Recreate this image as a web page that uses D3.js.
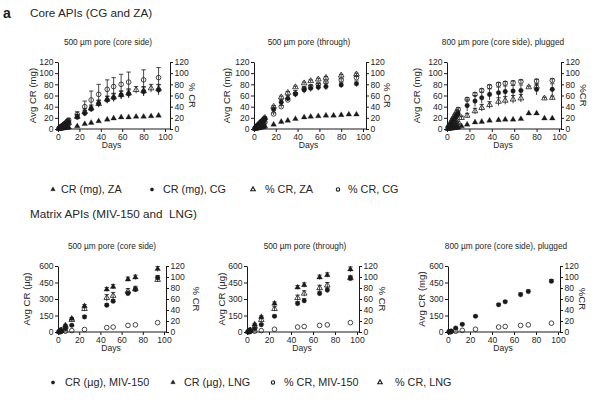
<!DOCTYPE html>
<html><head><meta charset="utf-8">
<script src="https://cdn.jsdelivr.net/npm/d3@7"></script>
<style>body{margin:0;background:#fff}svg{display:block}text{white-space:pre}</style>
</head><body><svg id="c" width="600" height="402"></svg>
<script>
// ---------- DATA ----------
const xTicks = [0,20,40,60,80,100];
const topLeftTicks = [0,20,40,60,80,100,120];
const topRightTicks = [0,20,40,60,80,100,120];
const botLeftTicks = [0,150,300,450,600];
const botRightTicks = [0,20,40,60,80,100,120];

// Panel 1: 500 um pore (core side) - core APIs
const p1Days   = [1,2,3,4,5,6,7,8,9,10,18,25,31,38,46,52,59,66,73,80,87,94];
const p1ZAmg   = [0.3,0.6,0.9,1.2,1.5,1.8,2.1,2.4,2.7,3,5,9,11,14,17,19,21,21,22,22,23,24];
const p1CGmg   = [1,2,3,4,5,6,7,8,10,12,21,28,36,46,52,56,61,63,null,67,null,70];
const p1CGmgE  = [0.5,0.5,0.5,1,1,1,1,1.5,2,2,4,5,5,6,6,7,7,7,null,8,null,9];
const p1ZApct  = [1,2,3,4,5,6,7,8,9,11,22,31,37,45,53,57,61,64,70,68,73,72];
const p1ZApctE = [0.5,0.5,1,1,1,1,1,2,2,2,4,5,6,6,6,7,7,8,6,8,7,8];
const p1CGpct  = [1.5,3,4.5,6,7.5,9,10.5,12,14,16,26,40,52,62,71,76,80,84,null,88,null,92];
const p1CGpctE = [1,1,1,1,2,2,2,2,3,3,5,10,16,18,17,16,18,18,null,18,null,18];

// Panel 2: 500 um pore (through) - core APIs
const p2Days   = [1,2,3,4,5,6,7,8,9,10,18,25,31,38,46,52,59,66,73,80,87,94];
const p2ZAmg   = [0.4,0.8,1.2,1.6,2,2.5,3,3.5,4,5,8,13,15,18,21,22,23,24,24,25,26,26];
const p2CGmg   = [2,4,6,8,10,12,14,15,17,19,35,48,55,63,70,73,75,76,null,79,null,81];
const p2CGmgE  = [1,1,1,1,1,1,2,2,2,2,4,5,5,6,6,6,6,6,null,5,null,5];
const p2ZApct  = [2,4,6,8,10,12,14,16,18,20,40,57,65,75,82,86,89,92,null,96,null,98];
const p2ZApctE = [1,1,1,1,1,1,1,1,1,1,2,2,2,2,2,2,2,2,null,2,null,2];
const p2CGpct  = [1,2,3,4,5,6,7,8,10,12,27,40,52,63,72,76,80,84,null,88,null,92];
const p2CGpctE = [1,1,1,1,1,1,1,1,1,1,2,2,2,2,2,2,2,2,null,2,null,2];

// Panel 3: 800 um pore (core side), plugged - core APIs
const p3Days   = [1,2,3,4,5,6,7,8,9,10,13,18,25,31,38,46,52,59,66,73,80,87,94];
const p3ZAmg   = [0.3,0.6,0.9,1.2,1.5,1.8,2.1,2.4,2.7,3,5,8,12,13,15,16,17,17,18,28,28,19,19];
const p3CGmg   = [2,4,7,10,13,16,19,21,24,27,null,42,50,56,62,65,67,68,69,null,71,null,71];
const p3CGmgE  = [1,1,2,2,3,3,3,4,4,5,null,10,10,10,10,10,10,10,10,null,10,null,10];
const p3ZApct  = [1,2,3,4,5,6,8,9,10,12,20,24,32,38,43,49,51,53,55,75,76,55,56];
const p3ZApctE = [0.5,0.5,1,1,1,1,1,1,2,2,3,4,5,6,6,7,7,7,7,2,3,2,3];
const p3CGpct  = [3,6,9,13,17,20,24,27,31,35,null,53,62,69,76,80,82,83,85,null,86,null,87];
const p3CGpctE = [1,1,1,1,2,2,2,2,3,3,null,3,3,3,3,3,3,3,3,null,3,null,3];

// Bottom panels: matrix APIs
const bDays    = [1,2,3,7,13,25,46,52,66,73,94];
// Panel 4: 500 um pore (core side)
const p4MIVug  = [3,6,10,30,61,137,244,280,350,387,494];
const p4MIVugE = [2,2,3,5,8,10,12,15,15,15,20];
const p4LNGug  = [5,10,15,61,122,235,387,411,479,497,573];
const p4LNGugE = [3,3,4,8,10,15,18,20,20,20,22];
const p4MIVpct = [0.3,0.6,1,1.5,2.5,4.5,8,9,12,13,17];
const p4LNGpct = [1,2,3,10,22,42,62,66,74,78,95];
const p4LNGpctE= [0.5,0.5,1,2,3,4,6,6,5,5,4];
// Panel 5: 500 um pore (through)
const p5MIVug  = [3,6,10,30,67,143,259,284,350,381,488];
const p5MIVugE = [2,2,3,5,8,10,18,20,20,20,20];
const p5LNGug  = [5,10,15,70,137,259,405,427,497,518,570];
const p5LNGugE = [3,3,4,8,10,15,18,20,20,20,22];
const p5MIVpct = [0.3,0.6,1,1.5,2.5,5,9,10,12,13,17];
const p5LNGpct = [1,2,3,10,22,42,62,70,80,85,98];
const p5LNGpctE= [0.5,0.5,1,2,3,4,5,5,5,5,4];
// Panel 6: 800 um pore (core side), plugged
const p6MIVug  = [3,5,8,35,70,143,248,275,340,368,462];
const p6MIVugE = [2,2,2,5,6,8,8,10,15,15,15];
const p6MIVpct = [0.3,0.5,0.8,1.5,3,5,9,10,12,13,16];

// ---------- DRAW ----------
const svg = d3.select('#c');
const FONT = 'Liberation Sans, Arial, Helvetica, sans-serif';
const INK = '#1a1a1a';
const TXT = '#262626';
svg.attr('font-family', FONT);

function sym(type, size){
  return d3.symbol().type(type === 'tri' ? d3.symbolTriangle : d3.symbolCircle).size(size)();
}

function panel(cfg){
  const g = svg.append('g');
  const x = d3.scaleLinear().domain([0,100]).range([cfg.x0, cfg.x1]);
  const yL = d3.scaleLinear().domain([0, cfg.lMax]).range([cfg.yB, cfg.yT]);
  const yR = d3.scaleLinear().domain([0, 120]).range([cfg.yB, cfg.yT]);

  const ax = g.append('g').attr('transform', `translate(0,${cfg.yB})`)
    .call(d3.axisBottom(x).tickValues(xTicks).tickSize(3).tickSizeOuter(0).tickPadding(1.5));
  ax.select('.domain').remove();
  g.append('line').attr('x1', cfg.x0).attr('x2', cfg.xr).attr('y1', cfg.yB).attr('y2', cfg.yB)
    .attr('stroke', INK).attr('stroke-width', 1);

  const al = g.append('g').attr('transform', `translate(${cfg.x0},0)`)
    .call(d3.axisLeft(yL).tickValues(cfg.lTicks).tickSize(3).tickSizeOuter(0).tickPadding(1.5));
  const ar = g.append('g').attr('transform', `translate(${cfg.xr},0)`)
    .call(d3.axisRight(yR).tickValues(cfg.rTicks).tickSize(3).tickSizeOuter(0).tickPadding(1.5));
  [ax, al, ar].forEach(a => {
    a.selectAll('text').attr('font-size', 8.6).attr('fill', TXT).attr('font-family', FONT);
    a.selectAll('line').attr('stroke', INK);
    a.selectAll('.domain').attr('stroke', INK);
  });

  g.append('text').attr('x', cfg.tx).attr('y', cfg.yT - 17).attr('text-anchor', 'middle')
    .attr('font-size', 8.3).attr('fill', TXT).text(cfg.title);
  g.append('text').attr('x', (cfg.x0 + cfg.x1) / 2).attr('y', cfg.yB + 19).attr('text-anchor', 'middle')
    .attr('font-size', 8.6).attr('fill', TXT).text('Days');
  g.append('text').attr('transform', `translate(${cfg.lx},${(cfg.yT + cfg.yB) / 2}) rotate(-90)`)
    .attr('text-anchor', 'middle').attr('dy', '0.35em').attr('font-size', 9.6).attr('fill', TXT).text(cfg.lLabel);
  g.append('text').attr('transform', `translate(${cfg.rx},${(cfg.yT + cfg.yB) / 2}) rotate(90)`)
    .attr('text-anchor', 'middle').attr('dy', '0.35em').attr('font-size', 9.6).attr('fill', TXT).text(cfg.rLabel);

  cfg.series.forEach(s => {
    const y = s.axis === 'right' ? yR : yL;
    const pts = s.days.map((d, i) => ({d, v: s.vals[i], e: s.errs ? s.errs[i] : null}))
      .filter(p => p.v !== null && p.v !== undefined);
    pts.filter(p => p.e).forEach(p => {
      const cx = x(p.d), yt = y(p.v + p.e), yb = y(Math.max(0, p.v - p.e));
      g.append('line').attr('x1', cx).attr('x2', cx).attr('y1', yt).attr('y2', yb)
        .attr('stroke', INK).attr('stroke-width', 0.8);
      g.append('line').attr('x1', cx - 2.2).attr('x2', cx + 2.2).attr('y1', yt).attr('y2', yt)
        .attr('stroke', INK).attr('stroke-width', 0.8);
    });
    g.selectAll(null).data(pts).enter().append('path')
      .attr('d', sym(s.type, s.type === 'tri' ? 14 : 17))
      .attr('transform', p => `translate(${x(p.d)},${y(p.v)})`)
      .attr('fill', s.filled ? INK : 'none')
      .attr('stroke', INK).attr('stroke-width', s.filled ? 0.3 : 0.8);
  });
}

// Headings
svg.append('text').attr('x', 3).attr('y', 18).attr('font-size', 14).attr('font-weight', 'bold')
  .attr('fill', INK).text('a');
svg.append('text').attr('x', 30).attr('y', 17).attr('font-size', 11.7).attr('fill', TXT)
  .text('Core APIs (CG and ZA)');
svg.append('text').attr('x', 30).attr('y', 218).attr('font-size', 11.7).attr('fill', TXT)
  .text('Matrix APIs (MIV-150 and\u00a0 LNG)');

const topY = {yT: 62, yB: 129, lMax: 120, lTicks: topLeftTicks, rTicks: topRightTicks};
const botY = {yT: 266, yB: 332, lMax: 600, lTicks: botLeftTicks, rTicks: botRightTicks};

function coreSeries(days, za, cg, zap, zapE, cgp, cgpE, cgE){
  return [
    {days, vals: za, type: 'tri', filled: true, axis: 'left'},
    {days, vals: cg, errs: cgE, type: 'circle', filled: true, axis: 'left'},
    {days, vals: zap, errs: zapE, type: 'tri', filled: false, axis: 'right'},
    {days, vals: cgp, errs: cgpE, type: 'circle', filled: false, axis: 'right'}
  ];
}

panel(Object.assign({x0: 58, x1: 165, xr: 170, tx: 108, lx: 33, rx: 192,
  title: '500 \u00b5m pore (core side)', lLabel: 'Avg CR (mg)', rLabel: '% CR',
  series: coreSeries(p1Days, p1ZAmg, p1CGmg, p1ZApct, p1ZApctE, p1CGpct, p1CGpctE, p1CGmgE)}, topY));
panel(Object.assign({x0: 254, x1: 363, xr: 366, tx: 309, lx: 227, rx: 387,
  title: '500 \u00b5m pore (through)', lLabel: 'Avg CR (mg)', rLabel: '% CR',
  series: coreSeries(p2Days, p2ZAmg, p2CGmg, p2ZApct, p2ZApctE, p2CGpct, p2CGpctE, p2CGmgE)}, topY));
panel(Object.assign({x0: 447, x1: 559, xr: 561, tx: 503, lx: 417, rx: 583,
  title: '800 \u00b5m pore (core side), plugged', lLabel: 'Avg CR (mg)', rLabel: '%CR',
  series: coreSeries(p3Days, p3ZAmg, p3CGmg, p3ZApct, p3ZApctE, p3CGpct, p3CGpctE, p3CGmgE)}, topY));

panel(Object.assign({x0: 58, x1: 164, xr: 166, tx: 112, lx: 27, rx: 196,
  title: '500 \u00b5m pore (core side)', lLabel: 'Avg CR (\u00b5g)', rLabel: '% CR',
  series: [
    {days: bDays, vals: p4MIVpct, type: 'circle', filled: false, axis: 'right'},
    {days: bDays, vals: p4LNGpct, errs: p4LNGpctE, type: 'tri', filled: false, axis: 'right'},
    {days: bDays, vals: p4MIVug, errs: p4MIVugE, type: 'circle', filled: true, axis: 'left'},
    {days: bDays, vals: p4LNGug, errs: p4LNGugE, type: 'tri', filled: true, axis: 'left'}
  ]}, botY));
panel(Object.assign({x0: 247, x1: 357, xr: 359, tx: 305, lx: 222, rx: 382,
  title: '500 \u00b5m pore (through)', lLabel: 'Avg CR (\u00b5g)', rLabel: '% CR',
  series: [
    {days: bDays, vals: p5MIVpct, type: 'circle', filled: false, axis: 'right'},
    {days: bDays, vals: p5LNGpct, errs: p5LNGpctE, type: 'tri', filled: false, axis: 'right'},
    {days: bDays, vals: p5MIVug, errs: p5MIVugE, type: 'circle', filled: true, axis: 'left'},
    {days: bDays, vals: p5LNGug, errs: p5LNGugE, type: 'tri', filled: true, axis: 'left'}
  ]}, botY));
panel(Object.assign({x0: 448, x1: 558, xr: 560, tx: 506, lx: 422, rx: 582,
  title: '800 \u00b5m pore (core side), plugged', lLabel: 'Avg CR (mg)', rLabel: '%CR',
  series: [
    {days: bDays, vals: p6MIVpct, type: 'circle', filled: false, axis: 'right'},
    {days: bDays, vals: p6MIVug, errs: p6MIVugE, type: 'circle', filled: true, axis: 'left'}
  ]}, botY));

// Legends
const legTop = [
  {label: 'CR (mg), ZA', type: 'tri', filled: true, mx: 53, tx: 61},
  {label: 'CR (mg), CG', type: 'circle', filled: true, mx: 152, tx: 163},
  {label: '% CR, ZA', type: 'tri', filled: false, mx: 253, tx: 265},
  {label: '% CR, CG', type: 'circle', filled: false, mx: 338, tx: 348}
];
const legBot = [
  {label: 'CR (\u00b5g), MIV-150', type: 'circle', filled: true, mx: 53, tx: 65},
  {label: 'CR (\u00b5g), LNG', type: 'tri', filled: true, mx: 173, tx: 184},
  {label: '% CR, MIV-150', type: 'circle', filled: false, mx: 273, tx: 284},
  {label: '% CR, LNG', type: 'tri', filled: false, mx: 380, tx: 395}
];
function legend(items, y){
  items.forEach(it => {
    svg.append('path').attr('d', sym(it.type, 9))
      .attr('transform', `translate(${it.mx},${y - 3.5})`)
      .attr('fill', it.filled ? INK : 'none').attr('stroke', INK)
      .attr('stroke-width', it.filled ? 0.3 : 1.1);
    svg.append('text').attr('x', it.tx).attr('y', y).attr('font-size', 10.8).attr('fill', TXT).text(it.label);
  });
}
legend(legTop, 193);
legend(legBot, 386);
</script></body></html>
